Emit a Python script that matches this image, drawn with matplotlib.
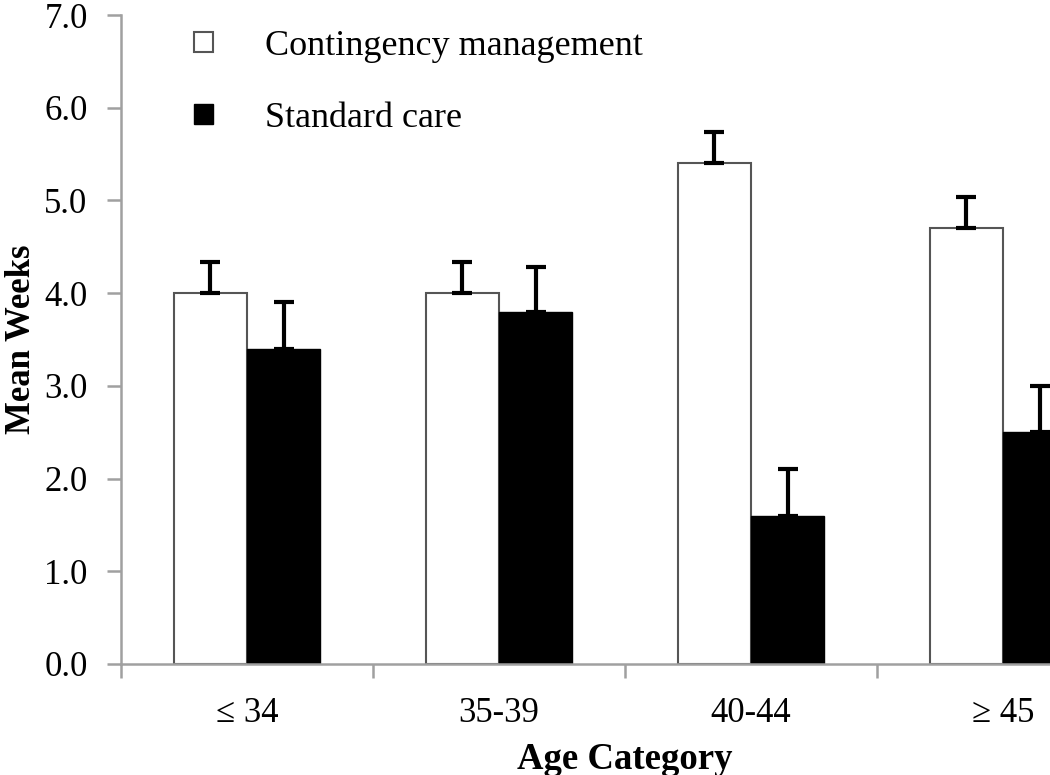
import matplotlib
matplotlib.use("Agg")
import matplotlib.pyplot as plt
import numpy as np

# data
categories = ['\u2264 34', '35-39', '40-44', '\u2265 45']
cm_means = [4.0, 4.0, 5.4, 4.7]
cm_err = [0.34, 0.34, 0.34, 0.34]
sc_means = [3.4, 3.8, 1.6, 2.5]
sc_err = [0.5, 0.48, 0.5, 0.5]
series_labels = ['Contingency management', 'Standard care']

plt.rcParams['font.family'] = ['Liberation Serif', 'DejaVu Serif']

fig = plt.figure(figsize=(10.5, 7.75), dpi=100)
ax = fig.add_axes([121 / 1050, 111 / 775, 1008 / 1050, 649 / 775])

x = np.arange(len(categories))
w = 0.29
grey = '#a0a0a0'
err_kw = dict(ecolor='black', elinewidth=3, capsize=7, capthick=3)

b1 = ax.bar(x - w / 2, cm_means, w, color='white', edgecolor='#555555', linewidth=1.5,
            yerr=[np.zeros(len(cm_err)), cm_err], error_kw=err_kw, label=series_labels[0], zorder=2)
b2 = ax.bar(x + w / 2, sc_means, w, color='black', edgecolor='black', linewidth=1,
            yerr=[np.zeros(len(sc_err)), sc_err], error_kw=err_kw, label=series_labels[1], zorder=2)

ax.set_xlim(-0.5, len(categories) - 0.5)
ax.set_ylim(0, 7)
ax.set_yticks(np.arange(0, 7.1, 1.0))
ax.set_yticklabels([f'{v:.1f}' for v in np.arange(0, 7.1, 1.0)])
ax.set_xticks(x)
ax.set_xticklabels(categories)
ax.set_xticks(np.arange(-0.5, len(categories), 1.0), minor=True)

for s in ['top', 'right']:
    ax.spines[s].set_visible(False)
for s in ['left', 'bottom']:
    ax.spines[s].set_color(grey)
    ax.spines[s].set_linewidth(1.8)

ax.tick_params(axis='y', direction='out', length=10, width=1.8, color=grey, labelsize=25, pad=14)
ax.tick_params(axis='x', which='major', length=0, labelsize=25, pad=24)
ax.tick_params(axis='x', which='minor', direction='out', length=10, width=1.8, color=grey)

ax.set_ylabel('Mean Weeks', fontsize=25, fontweight='bold')
ax.yaxis.set_label_coords(-0.082, 0.5)
ax.set_xlabel('Age Category', fontsize=26.5, fontweight='bold')
ax.xaxis.set_label_coords(0.5, -0.12)

ax.legend(handles=[b1, b2], labels=series_labels, loc='upper left', bbox_to_anchor=(0.04, 1.027),
          frameon=False, fontsize=26, handlelength=0.52, handleheight=0.5,
          handletextpad=1.45, labelspacing=1.08)

fig.savefig('out.png', dpi=100)
